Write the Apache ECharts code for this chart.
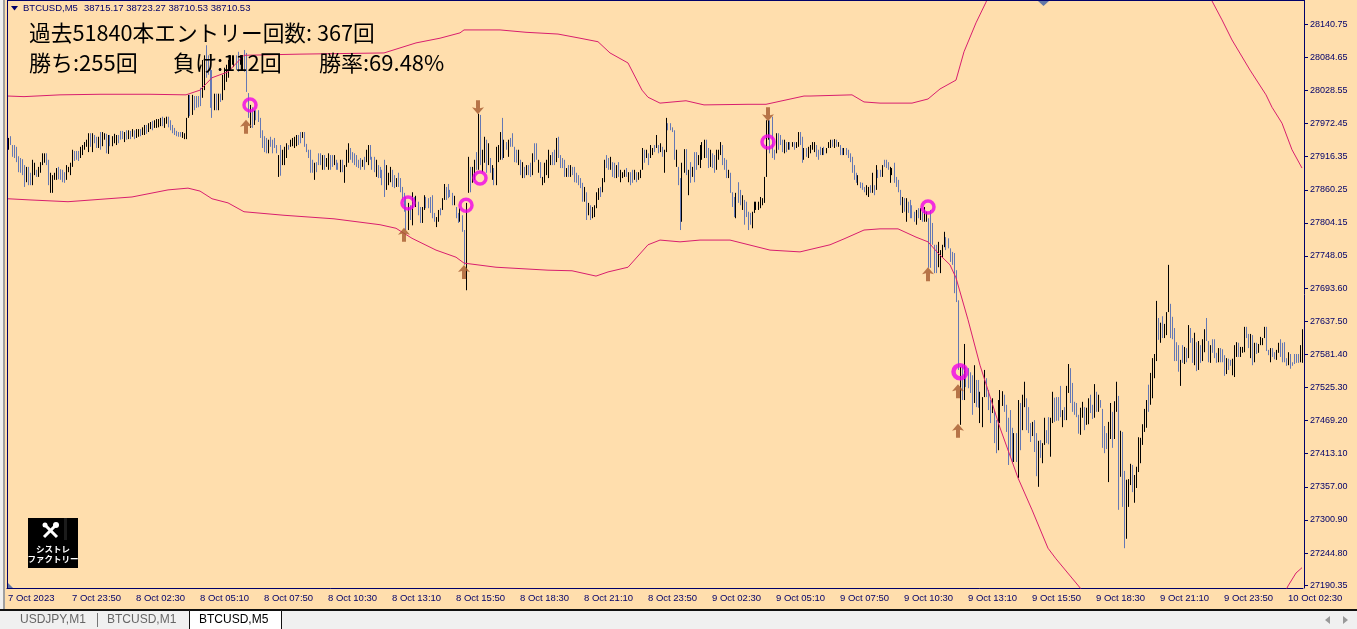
<!DOCTYPE html>
<html>
<head>
<meta charset="utf-8">
<style>
  html, body { margin: 0; padding: 0; background: #ffdead; overflow: hidden; }
  #chart { width: 1357px; height: 629px; }
</style>
<script src="https://cdn.jsdelivr.net/npm/echarts@6/dist/echarts.min.js"></script>
</head>
<body>
<div id="chart"></div>
<script>
const highs = [
  27948,27951,27936,27936,27933,27917,27914,27912,27902,27899,
  27899,27889,27911,27906,27894,27899,27907,27922,27922,27922,
  27911,27889,27885,27889,27897,27899,27895,27894,27890,27902,
  27899,27906,27928,27926,27926,27926,27933,27936,27941,27945,
  27956,27956,27956,27953,27950,27950,27958,27958,27956,27955,
  27953,27953,27951,27955,27953,27953,27960,27960,27958,27961,
  27961,27960,27963,27961,27963,27963,27963,27966,27970,27970,
  27973,27975,27977,27978,27980,27980,27982,27984,27982,27984,
  27984,27978,27970,27965,27960,27958,27958,27958,27956,27982,
  28021,28021,28021,28019,28019,28019,28033,28080,28088,28105,
  28088,28072,28063,28023,28023,28023,28023,28055,28067,28072,
  28080,28088,28088,28088,28088,28094,28088,28088,28097,28092,
  28024,28004,28000,27995,27995,27995,27982,27961,27951,27948,
  27945,27950,27945,27948,27936,27919,27936,27928,27933,27939,
  27936,27945,27948,27950,27953,27953,27958,27958,27958,27938,
  27928,27928,27911,27906,27907,27922,27922,27919,27919,27914,
  27922,27919,27919,27919,27911,27906,27911,27911,27902,27928,
  27939,27931,27924,27922,27919,27911,27914,27911,27916,27928,
  27936,27936,27916,27916,27911,27902,27899,27894,27911,27902,
  27889,27899,27894,27885,27880,27889,27880,27865,27855,27848,
  27838,27834,27856,27848,27850,27840,27831,27831,27851,27848,
  27846,27848,27851,27821,27814,27826,27829,27846,27870,27865,
  27870,27860,27855,27850,27831,27821,27829,27817,27792,27838,
  27916,27899,27899,27911,27924,27989,27987,27928,27950,27945,
  27939,27914,27902,27897,27933,27936,27958,27982,27945,27941,
  27945,27948,27956,27933,27928,27928,27911,27907,27899,27902,
  27902,27906,27922,27939,27939,27911,27907,27882,27906,27911,
  27928,27919,27924,27928,27948,27950,27919,27914,27911,27897,
  27902,27902,27899,27899,27889,27885,27880,27872,27865,27856,
  27838,27834,27831,27834,27856,27863,27865,27880,27911,27919,
  27914,27916,27907,27906,27902,27907,27894,27890,27894,27897,
  27890,27890,27894,27894,27890,27890,27894,27931,27928,27928,
  27922,27936,27931,27936,27953,27936,27939,27933,27928,27982,
  27973,27973,27966,27961,27928,27899,27880,27906,27929,27929,
  27894,27907,27899,27924,27924,27919,27936,27941,27945,27945,
  27931,27928,27922,27919,27928,27928,27941,27936,27914,27911,
  27894,27889,27856,27848,27855,27873,27860,27851,27843,27840,
  27823,27821,27823,27840,27840,27840,27848,27846,27882,27978,
  27978,27978,27984,27928,27956,27956,27953,27945,27945,27941,
  27941,27941,27941,27941,27941,27958,27958,27950,27931,27931,
  27933,27936,27941,27941,27936,27928,27933,27931,27933,27931,
  27941,27945,27945,27946,27945,27941,27936,27931,27931,27931,
  27928,27922,27916,27902,27889,27885,27873,27872,27865,27868,
  27865,27868,27889,27868,27902,27894,27894,27902,27911,27911,
  27907,27899,27897,27906,27882,27877,27860,27848,27846,27846,
  27840,27843,27834,27823,27826,27829,27829,27823,27831,27823,
  27812,27826,27804,27767,27767,27772,27758,27767,27789,27780,
  27778,27761,27755,27753,27724,27673,27560,27563,27599,27560,
  27558,27551,27546,27563,27538,27538,27518,27509,27555,27541,
  27521,27504,27507,27487,27470,27504,27521,27519,27513,27496,
  27474,27487,27457,27448,27448,27504,27499,27513,27535,27507,
  27492,27465,27467,27470,27448,27435,27436,27431,27474,27453,
  27475,27474,27518,27508,27509,27509,27528,27487,27492,27528,
  27565,27558,27533,27501,27499,27479,27491,27501,27492,27491,
  27507,27513,27496,27531,27518,27513,27504,27489,27460,27448,
  27467,27499,27484,27502,27535,27511,27452,27450,27384,27369,
  27370,27396,27394,27377,27391,27441,27440,27463,27489,27504,
  27530,27550,27575,27582,27672,27643,27635,27646,27633,27653,
  27733,27667,27645,27626,27602,27597,27572,27597,27594,27592,
  27631,27626,27609,27618,27602,27604,27597,27607,27624,27643,
  27604,27597,27607,27607,27584,27592,27592,27590,27580,27575,
  27574,27572,27574,27597,27602,27601,27594,27594,27628,27628,
  27616,27616,27614,27601,27601,27599,27611,27609,27628,27628,
  27589,27592,27592,27585,27589,27601,27607,27601,27602,27575,
  27585,27582,27568,27582,27582,27582,27597,27624,
];

const lows = [
  27928,27936,27916,27914,27907,27890,27889,27885,27865,27873,
  27868,27868,27868,27885,27882,27882,27889,27902,27906,27902,
  27868,27855,27855,27877,27877,27878,27877,27873,27872,27877,
  27890,27885,27899,27909,27911,27909,27914,27919,27928,27933,
  27924,27933,27924,27939,27931,27931,27928,27934,27945,27922,
  27921,27934,27934,27939,27936,27939,27945,27946,27941,27945,
  27946,27946,27950,27946,27948,27950,27951,27953,27953,27955,
  27958,27963,27961,27965,27965,27966,27968,27968,27965,27972,
  27966,27961,27956,27953,27951,27950,27950,27948,27946,27946,
  27982,27985,27987,27995,27999,28000,28002,28016,28029,28050,
  28055,27999,27982,27995,27995,27995,28009,28012,28029,28043,
  28050,28063,28072,28068,28063,28060,28072,28063,28060,28026,
  27982,27965,27965,27970,27978,27975,27948,27931,27924,27922,
  27922,27933,27922,27931,27922,27882,27884,27902,27902,27914,
  27928,27933,27934,27931,27934,27936,27939,27948,27933,27924,
  27914,27889,27889,27877,27890,27902,27902,27894,27894,27899,
  27894,27894,27899,27902,27894,27894,27890,27890,27872,27899,
  27906,27911,27906,27902,27899,27897,27894,27899,27894,27907,
  27902,27911,27894,27890,27882,27880,27880,27868,27848,27860,
  27868,27873,27865,27863,27865,27865,27856,27843,27823,27792,
  27792,27809,27800,27834,27831,27817,27804,27804,27826,27829,
  27829,27821,27812,27806,27797,27806,27817,27826,27843,27843,
  27846,27848,27834,27834,27812,27804,27806,27789,27733,27690,
  27855,27856,27872,27877,27894,27894,27902,27890,27906,27889,
  27902,27889,27877,27868,27868,27907,27911,27911,27914,27928,
  27916,27933,27933,27907,27906,27902,27885,27880,27880,27885,
  27885,27882,27885,27907,27911,27889,27880,27868,27872,27885,
  27880,27902,27902,27902,27907,27914,27897,27897,27882,27882,
  27882,27882,27885,27873,27872,27868,27863,27840,27840,27809,
  27817,27809,27812,27814,27829,27843,27848,27856,27873,27897,
  27894,27894,27882,27880,27880,27882,27873,27880,27882,27882,
  27873,27868,27872,27877,27873,27877,27880,27894,27906,27914,
  27902,27914,27919,27924,27931,27922,27924,27916,27889,27924,
  27961,27961,27958,27911,27899,27868,27792,27806,27889,27885,
  27851,27872,27882,27873,27894,27902,27897,27911,27914,27914,
  27897,27899,27897,27889,27894,27911,27919,27902,27894,27880,
  27880,27855,27831,27814,27812,27838,27834,27826,27801,27814,
  27792,27801,27795,27821,27826,27826,27829,27834,27838,27882,
  27945,27922,27914,27911,27922,27928,27936,27924,27922,27924,
  27928,27928,27933,27928,27931,27933,27936,27906,27911,27916,
  27914,27922,27928,27924,27916,27911,27919,27919,27919,27922,
  27931,27931,27933,27931,27933,27933,27919,27919,27919,27919,
  27914,27907,27889,27877,27872,27868,27863,27860,27856,27851,
  27848,27855,27855,27851,27860,27880,27882,27882,27899,27897,
  27894,27872,27885,27872,27865,27856,27834,27821,27823,27806,
  27821,27812,27812,27806,27801,27812,27809,27806,27806,27806,
  27728,27728,27767,27719,27719,27729,27719,27745,27763,27758,
  27761,27738,27733,27685,27670,27555,27462,27504,27504,27526,
  27524,27516,27479,27499,27492,27491,27465,27458,27509,27509,
  27487,27465,27482,27431,27414,27419,27465,27494,27484,27450,
  27394,27408,27397,27399,27399,27372,27419,27453,27492,27453,
  27448,27433,27443,27416,27375,27357,27406,27397,27428,27431,
  27429,27408,27465,27467,27469,27469,27475,27458,27470,27470,
  27516,27499,27484,27479,27475,27447,27445,27474,27453,27462,
  27463,27482,27472,27474,27484,27484,27491,27423,27414,27421,
  27365,27438,27423,27438,27484,27318,27374,27323,27253,27269,
  27323,27360,27348,27330,27355,27382,27397,27428,27450,27457,
  27484,27496,27507,27541,27570,27606,27601,27609,27609,27614,
  27653,27609,27607,27570,27570,27552,27528,27567,27565,27568,
  27575,27601,27567,27563,27553,27555,27567,27570,27585,27604,
  27568,27567,27584,27575,27567,27568,27568,27568,27545,27548,
  27555,27562,27546,27543,27577,27577,27577,27584,27585,27609,
  27592,27575,27563,27568,27582,27584,27597,27597,27609,27587,
  27580,27568,27577,27573,27572,27584,27577,27568,27568,27562,
  27563,27557,27562,27565,27567,27567,27568,27567,
];

// 1 = black bar, 0 = blue bar
const upBars = [
  1,0,0,0,0,0,0,0,0,1, 0,0,1,1,0,1,1,1,1,0, 0,1,1,1,1,0,0,0,0,1, 1,1,1,0,0,0,1,1,1,1,
  1,0,1,0,0,1,0,1,1,0, 1,0,1,1,1,0,0,0,1,0, 1,0,1,0,1,1,0,1,1,0, 1,1,0,1,1,1,1,0,1,1,
  0,0,0,0,0,0,0,1,1,1, 1,0,1,0,0,0,0,1,1,0, 0,0,0,1,0,1,0,1,1,1, 1,1,1,1,0,0,1,1,0,0,
  0,1,0,1,0,0,0,0,0,0, 1,0,0,0,0,1,0,1,1,1, 0,1,1,1,1,0,0,1,0,0, 0,0,0,1,0,0,0,1,0,1,
  1,0,0,1,0,0,1,0,1,1, 1,0,0,0,0,0,0,1,0,1, 1,0,0,0,1,0,0,0,0,1, 1,1,0,0,1,0,0,0,0,0,
  1,0,1,0,1,0,0,1,1,0, 0,0,0,0,1,1,0,1,1,0, 0,0,0,1,0,0,1,0,0,1, 1,0,1,1,0,1,0,1,1,0,
  1,0,1,0,1,1,1,0,1,0, 1,0,0,0,0,1,0,1,0,1, 0,0,1,0,0,1,0,1,1,1, 1,1,0,0,1,0,0,0,0,1,
  0,1,0,0,0,0,0,0,1,0, 1,0,1,1,1,1,0,1,1,0, 0,1,0,0,1,0,1,1,1,0, 1,0,0,1,0,1,1,1,0,1,
  0,1,1,0,1,0,1,0,1,1, 0,0,0,0,1,0,0,1,1,0, 1,0,1,0,0,1,1,1,1,0, 0,1,0,0,1,1,1,0,0,0,
  1,0,0,0,1,0,0,1,0,0, 0,0,1,1,1,1,1,1,1,1, 1,0,0,0,1,0,0,0,1,0, 1,0,1,0,1,1,0,0,1,0,
  1,1,1,1,0,0,0,1,0,1, 1,1,0,1,0,1,0,0,1,0, 0,0,0,0,0,1,0,0,0,1, 1,0,1,0,1,0,0,1,0,0,
  0,1,1,0,0,0,0,1,0,1, 0,0,0,0,1,0,1,0,1,1, 0,0,0,0,0,1,1,1,1,0, 0,0,0,0,0,0,1,0,1,0,
  0,0,0,1,0,0,1,1,1,0, 0,0,1,0,0,1,1,1,0,0, 0,0,0,1,0,1,0,1,1,0, 0,0,1,0,0,1,0,1,1,0,
  0,1,1,0,0,0,0,1,0,1, 1,0,0,0,0,0,1,1,0,1, 1,0,0,1,0,1,0,0,0,0, 1,1,0,1,1,0,1,0,0,1,
  1,1,0,1,1,1,1,1,1,1, 0,1,1,1,1,0,1,0,1,1, 1,0,0,0,0,0,1,0,1,0, 1,0,0,1,0,1,0,1,1,0,
  0,1,0,0,0,1,0,0,0,1, 0,0,1,1,1,0,1,1,1,0, 0,1,0,1,0,1,1,1,1,0, 0,1,0,0,1,1,0,0,0,0,
  1,0,0,0,0,0,1,1,
];

// [bar index, price]; the band runs off the plot in places and gets clipped
const upperBand = [
  [0,28019],[8,28018],[26,28021],[46,28022],[71,28022],[89,28021],[96,28029],[102,28050],
  [110,28060],[118,28088],[146,28090],[188,28092],[204,28109],[216,28117],[226,28126],[228,28131],
  [246,28131],[259,28127],[275,28124],[286,28117],[295,28111],[301,28092],[310,28075],[317,28029],
  [320,28017],[326,28007],[339,28011],[348,28004],[370,28005],[379,28005],[398,28019],[401,28019],
  [422,28021],[428,28009],[436,28007],[452,28007],[460,28014],[466,28031],[474,28046],[478,28094],
  [484,28143],[489,28178],[493,28215],[546,28520],[599,28205],[602,28180],[607,28148],[612,28114],
  [621,28063],[629,28021],[632,28000],[637,27973],[642,27928],[647,27897],
];

const lowerBand = [
  [0,27845],[11,27843],[30,27840],[62,27848],[80,27860],[90,27863],[96,27858],[102,27845],
  [110,27838],[118,27823],[138,27817],[163,27811],[186,27801],[194,27795],[202,27778],[214,27758],
  [224,27746],[228,27736],[244,27729],[270,27724],[282,27723],[294,27714],[300,27721],[310,27729],
  [320,27767],[326,27775],[336,27772],[346,27775],[361,27775],[381,27758],[396,27755],[411,27767],
  [418,27777],[428,27792],[436,27794],[445,27794],[454,27780],[460,27772],[465,27753],[471,27733],
  [474,27711],[480,27640],[486,27563],[496,27457],[505,27372],[512,27318],[520,27253],[524,27235],
  [537,27182],[570,26962],[639,27182],[640,27189],[644,27211],[647,27220],
];

const entryCircles = [[121,28004],[200,27838],[229,27834],[236,27880],[380,27941],[460,27831]];
const bigCircles = [[476,27552]];
const upArrows = [[119,27967],[198,27784],[228,27721],[460,27717],[475,27519],[475,27452]];
const downArrows = [[235,28000],[380,27988]];

const priceTicks = [
  28140.75,28084.65,28028.55,27972.45,27916.35,27860.25,27804.15,27748.05,27693.6,
  27637.5,27581.4,27525.3,27469.2,27413.1,27357,27300.9,27244.8,27190.35,
];

const timeLabels = [
  "7 Oct 2023","7 Oct 23:50","8 Oct 02:30","8 Oct 05:10","8 Oct 07:50","8 Oct 10:30","8 Oct 13:10",
  "8 Oct 15:50","8 Oct 18:30","8 Oct 21:10","8 Oct 23:50","9 Oct 02:30","9 Oct 05:10","9 Oct 07:50",
  "9 Oct 10:30","9 Oct 13:10","9 Oct 15:50","9 Oct 18:30","9 Oct 21:10","9 Oct 23:50","10 Oct 02:30",
];

const BARS_PER_LABEL = 32;
const categories = highs.map((_, i) =>
  i % BARS_PER_LABEL === 0 ? timeLabels[i / BARS_PER_LABEL] : String(i),
);

const UI_FONT = "Liberation Sans";
const JP_FONT = "Noto Sans CJK JP";
const AXIS_COLOR = "#00006a";
const ARROW_PATH = "path://M6 0 L12 7 L8 6 L8 14 L4 14 L4 6 L0 7 Z";

function label(x, y, text, style) {
  return {
    type: "text",
    x: x,
    y: y,
    z: 50,
    style: Object.assign({ text: text, verticalAlign: "middle" }, style),
  };
}

function box(x, y, width, height, fill, stroke) {
  return {
    type: "rect",
    z: 40,
    shape: { x: x, y: y, width: width, height: height },
    style: { fill: fill, stroke: stroke || null, lineWidth: 1 },
  };
}

const headline = { font: "21.7px " + JP_FONT, fill: "#000" };
const headline2 = { font: "22px " + JP_FONT, fill: "#000" };
const tabText = { font: "12px " + UI_FONT, fill: "#666" };

const overlay = [
  // window frame on the left and the tab strip at the bottom
  box(0, 0, 3, 610, "#f0f0f0"),
  box(3, 0, 2, 610, "#a0a0a0"),
  box(7, 0, 1, 589, AXIS_COLOR),
  box(7, 0, 1298, 1, AXIS_COLOR),
  box(0, 610, 1357, 19, "#f0f0f0"),
  box(0, 609, 1357, 2, "#111"),
  box(189.5, 610.5, 92, 19, "#fff", "#111"),
  box(97, 613, 1, 14, "#777"),
  label(20, 620, "USDJPY,M1", tabText),
  label(107, 620, "BTCUSD,M1", tabText),
  label(199, 620, "BTCUSD,M5", { font: "12px " + UI_FONT, fill: "#000" }),
  {
    type: "polygon",
    z: 50,
    shape: { points: [[1330, 616], [1330, 624], [1325, 620]] },
    style: { fill: "#999" },
  },
  {
    type: "polygon",
    z: 50,
    shape: { points: [[1343, 616], [1343, 624], [1348, 620]] },
    style: { fill: "#999" },
  },

  // chart header
  {
    type: "polygon",
    z: 50,
    shape: { points: [[11, 6], [18, 6], [14.5, 10.5]] },
    style: { fill: "#00006a" },
  },
  label(23, 8.5, "BTCUSD,M5", { font: "9.5px " + UI_FONT, fill: AXIS_COLOR }),
  label(84, 8.5, "38715.17 38723.27 38710.53 38710.53", { font: "9.5px " + UI_FONT, fill: AXIS_COLOR }),

  // scroll markers
  {
    type: "polygon",
    z: 50,
    shape: { points: [[1038, 1], [1049, 1], [1043.5, 6]] },
    style: { fill: "#6478a8" },
  },
  {
    type: "polygon",
    z: 50,
    shape: { points: [[8, 583], [8, 588], [13, 588]] },
    style: { fill: "#6478a8" },
  },

  // statistics text
  label(29, 33, "過去51840本エントリー回数: 367回", headline),
  label(29, 63, "勝ち:255回", headline2),
  label(173, 63, "負け:112回", headline2),
  label(319, 63, "勝率:69.48%", headline2),

  // logo
  box(28, 518, 50, 50, "#000"),
  box(64, 518, 3, 22, "#1c1c1c"),
  {
    type: "line",
    z: 50,
    shape: { x1: 44, y1: 524, x2: 57, y2: 537 },
    style: { stroke: "#fff", lineWidth: 3 },
  },
  {
    type: "line",
    z: 50,
    shape: { x1: 44, y1: 537, x2: 55, y2: 526 },
    style: { stroke: "#fff", lineWidth: 3 },
  },
  {
    type: "circle",
    z: 50,
    shape: { cx: 56, cy: 525, r: 3 },
    style: { fill: "#fff" },
  },
  {
    type: "circle",
    z: 50,
    shape: { cx: 45, cy: 525, r: 2.5 },
    style: { fill: "#fff" },
  },
  label(53, 548.5, "シストレ", { font: "bold 8.5px " + JP_FONT, fill: "#fff", align: "center" }),
  label(53, 559, "ファクトリー", { font: "bold 8.5px " + JP_FONT, fill: "#fff", align: "center" }),
];

const bars = highs.map((high, i) => [i, lows[i], high, upBars[i]]);

function renderBar(params, api) {
  const top = api.coord([api.value(0), api.value(2)]);
  const bottom = api.coord([api.value(0), api.value(1)]);
  const x = Math.floor(top[0]) + 0.5;
  return {
    type: "line",
    shape: { x1: x, y1: top[1], x2: x, y2: bottom[1] },
    style: { stroke: api.value(3) ? "#000" : "#6478b4", lineWidth: 1 },
  };
}

function bandSeries(data) {
  return {
    type: "line",
    data: data,
    showSymbol: false,
    clip: true,
    z: 5,
    lineStyle: { color: "#d81e6e", width: 1 },
  };
}

function markerSeries(data, symbol, size, rotate, itemStyle, z) {
  return {
    type: "scatter",
    data: data,
    symbol: symbol,
    symbolSize: size,
    symbolRotate: rotate,
    clip: false,
    z: z,
    itemStyle: itemStyle,
  };
}

const chart = echarts.init(document.getElementById("chart"), null, { renderer: "canvas" });
chart.setOption({
  backgroundColor: "#ffdead",
  animation: false,
  grid: { left: 7, top: 1, width: 1296, height: 587, containLabel: false },
  graphic: overlay,
  xAxis: {
    type: "category",
    data: categories,
    boundaryGap: true,
    axisLine: { lineStyle: { color: AXIS_COLOR, width: 1 } },
    axisTick: {
      alignWithLabel: true,
      length: 4,
      interval: (i) => i % BARS_PER_LABEL === 0,
      lineStyle: { color: AXIS_COLOR },
    },
    axisLabel: {
      interval: (i) => i % BARS_PER_LABEL === 0,
      align: "left",
      margin: 5,
      hideOverlap: false,
      fontFamily: UI_FONT,
      fontSize: 9.5,
      color: AXIS_COLOR,
    },
    splitLine: { show: false },
  },
  yAxis: {
    type: "value",
    position: "right",
    offset: 1,
    min: 27185.6,
    max: 28180,
    scale: true,
    axisLine: { show: true, lineStyle: { color: AXIS_COLOR, width: 1 } },
    axisTick: {
      show: true,
      length: 4,
      customValues: priceTicks,
      lineStyle: { color: AXIS_COLOR },
    },
    axisLabel: {
      customValues: priceTicks,
      formatter: (value) => value.toFixed(2),
      margin: 6,
      fontFamily: UI_FONT,
      fontSize: 9,
      color: AXIS_COLOR,
    },
    splitLine: { show: false },
  },
  series: [
    {
      type: "custom",
      data: bars,
      renderItem: renderBar,
      encode: { x: 0, y: [1, 2] },
      clip: true,
      z: 2,
    },
    bandSeries(upperBand),
    bandSeries(lowerBand),
    markerSeries(upArrows, ARROW_PATH, [12, 14], 0, { color: "#a5592e" }, 8),
    markerSeries(downArrows, ARROW_PATH, [12, 14], 180, { color: "#a5592e" }, 8),
    markerSeries(
      entryCircles,
      "circle",
      12,
      0,
      { color: "rgba(0,0,0,0)", borderColor: "#f000e8", borderWidth: 3.5 },
      9,
    ),
    markerSeries(
      bigCircles,
      "circle",
      13,
      0,
      { color: "rgba(0,0,0,0)", borderColor: "#f000e8", borderWidth: 4.5 },
      9,
    ),
  ],
});
</script>
</body>
</html>
